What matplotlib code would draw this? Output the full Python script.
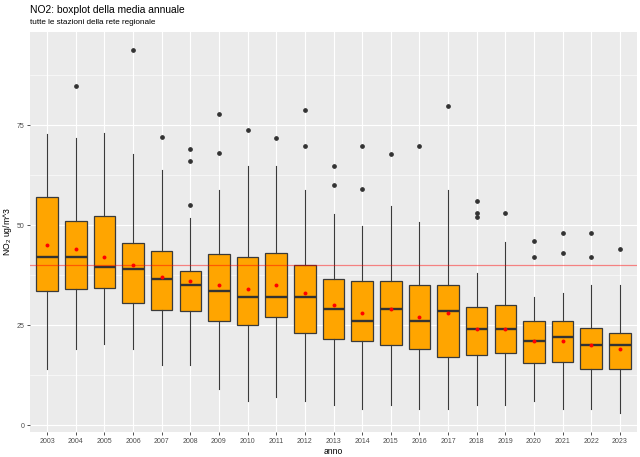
import matplotlib
matplotlib.use("Agg")
import matplotlib.pyplot as plt

plt.rcParams["font.family"] = ["Liberation Sans", "DejaVu Sans"]
plt.rcParams["mathtext.fontset"] = "custom"
plt.rcParams["mathtext.rm"] = "Liberation Sans"
plt.rcParams["mathtext.default"] = "regular"

years = [str(y) for y in range(2003, 2024)]
whisker_lo = [14, 19, 20.2, 19, 15.1, 15.1, 9.1, 6.1, 7.1, 6.1, 5.1,
              4.1, 5.1, 4.1, 4.1, 5.1, 5.1, 6.1, 4.1, 4.1, 3.1]
q1 = [33.5, 34, 34.3, 30.5, 28.8, 28.5, 26, 25, 27, 23, 21.6,
      21.1, 20.1, 19.1, 17.1, 17.6, 18.1, 15.6, 15.8, 14.1, 14.1]
median = [42, 42, 39.5, 39, 36.6, 35, 33.5, 32, 32, 32, 29,
          26, 29, 26, 28.6, 24, 24, 21, 22, 20, 20]
q3 = [56.9, 50.9, 52.2, 45.5, 43.5, 38.5, 42.7, 41.9, 42.9, 39.9, 36.4,
      35.9, 35.9, 34.9, 34.9, 29.4, 29.9, 26, 26, 24.2, 22.9]
whisker_hi = [72.8, 71.8, 73, 67.8, 63.8, 51.8, 58.8, 64.8, 64.8, 58.8, 52.8,
              49.8, 54.8, 50.8, 58.8, 37.9, 45.8, 31.9, 32.9, 34.9, 34.9]
means = [45, 44, 42, 40, 37, 36, 35, 34, 35, 33, 30,
         28, 29, 27, 28, 24, 24, 21, 21, 20, 19.1]
outliers = [[], [84.8], [], [93.8], [71.9], [68.9, 65.9, 55], [77.8, 67.9],
            [73.8], [71.8], [78.8, 69.8], [64.8, 59.9], [69.8, 58.9], [67.8],
            [69.8], [79.8], [55.9, 52.9, 51.9], [52.9], [45.9, 41.9],
            [47.9, 42.9], [47.9, 41.9], [43.9]]
limit_value = 40

stats = []
for i, yr in enumerate(years):
    stats.append({
        "label": yr, "whislo": whisker_lo[i], "q1": q1[i], "med": median[i],
        "q3": q3[i], "whishi": whisker_hi[i], "fliers": outliers[i],
    })

fig = plt.figure(figsize=(6.4, 4.57), dpi=100)
ax = fig.add_axes([30 / 640, 1 - 432 / 457, 607 / 640, 400 / 457])
ax.set_facecolor("#EBEBEB")

pos = list(range(len(years)))
ax.bxp(
    stats, positions=pos, widths=0.75, patch_artist=True, showcaps=False,
    boxprops=dict(facecolor="#FFA500", edgecolor="#3A3A3A", linewidth=0.9),
    medianprops=dict(color="#333333", linewidth=1.7),
    whiskerprops=dict(color="#3A3A3A", linewidth=0.8),
    flierprops=dict(marker="o", markerfacecolor="#333333",
                    markeredgecolor="#333333", markersize=2.4),
    zorder=2,
)
ax.axhline(limit_value, color="red", alpha=0.45, linewidth=0.9, zorder=3)
ax.scatter(pos, means, color="red", s=8, zorder=4, linewidths=0)

ax.set_xlim(-0.6, len(years) - 0.4)
ax.set_ylim(-1.75, 98.25)
ax.set_xticks(pos)
ax.set_xticklabels(years)
ax.set_yticks([0, 25, 50, 75])
ax.set_yticks([12.5, 37.5, 62.5, 87.5], minor=True)
ax.grid(True, which="major", color="white", linewidth=0.8, zorder=0)
ax.grid(True, which="minor", axis="y", color="white", linewidth=0.4, zorder=0)
ax.set_axisbelow(True)
ax.tick_params(which="major", length=2.5, width=0.6, color="#333333",
               labelsize=5, labelcolor="#4D4D4D", pad=1.5)
ax.tick_params(which="minor", length=0)
for s in ax.spines.values():
    s.set_visible(False)

ax.set_xlabel("anno", fontsize=6.2, labelpad=1.5)
ax.set_ylabel(r"NO$_2$ ug/m^3", fontsize=6.2, labelpad=2)

fig.text(30 / 640, 1 - 12.8 / 457, "NO2: boxplot della media annuale",
         fontsize=7.4, ha="left", va="baseline")
fig.text(30 / 640, 1 - 24.5 / 457, "tutte le stazioni della rete regionale",
         fontsize=5.9, ha="left", va="baseline")

fig.savefig("out.png", dpi=100)
